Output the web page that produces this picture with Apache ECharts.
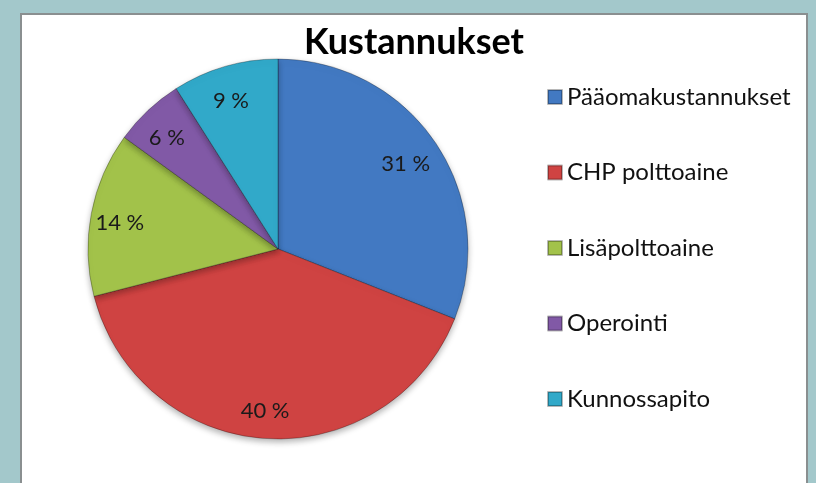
<!DOCTYPE html>
<html>
<head>
<meta charset="utf-8">
<script src="https://cdn.jsdelivr.net/npm/echarts@6/dist/echarts.min.js"></script>
<style>
html,body{margin:0;padding:0;background:#a3c8cb;}
#chart{width:816px;height:483px;}
</style>
</head>
<body>
<div id="chart"></div>
<script>
const titleText = 'Kustannukset';
const categories = ['Pääomakustannukset', 'CHP polttoaine', 'Lisäpolttoaine', 'Operointi', 'Kunnossapito'];
const values = [31, 40, 14, 6, 9];
const colors = ['#4279c2', '#cf4342', '#a2c24a', '#8159a6', '#31a9c9'];

const chart = echarts.init(document.getElementById('chart'));
const pieData = categories.map((name, i) => ({ name: name, value: values[i] }));

chart.setOption({
  backgroundColor: '#a3c8cb',
  color: colors,
  animation: false,
  graphic: [{
    type: 'rect',
    z: -10,
    silent: true,
    shape: { x: 21, y: 14, width: 786, height: 480 },
    style: { fill: '#ffffff', stroke: '#8a8f90', lineWidth: 2 }
  }],
  title: {
    text: titleText,
    left: 414,
    top: 24,
    padding: 0,
    textAlign: 'center',
    textStyle: { fontFamily: 'Lato', fontWeight: 'bold', fontSize: 36, color: '#000' }
  },
  legend: {
    orient: 'vertical',
    left: 547,
    top: 84,
    padding: 0,
    itemWidth: 14,
    itemHeight: 14,
    itemGap: 49.5,
    icon: 'rect',
    data: categories,
    textStyle: { fontFamily: 'Lato', fontSize: 24, color: '#111', lineHeight: 26 }
  },
  series: [{
    type: 'pie',
    name: 'main',
    center: [278, 249],
    radius: [0, 190],
    startAngle: 90,
    clockwise: true,
    label: { show: false },
    labelLine: { show: false },
    itemStyle: {
      borderColor: 'rgba(0,0,0,0.28)',
      borderWidth: 1,
      shadowBlur: 6,
      shadowOffsetY: 3,
      shadowColor: 'rgba(0,0,0,0.3)'
    },
    data: pieData
  }, {
    type: 'pie',
    name: 'labels',
    center: [278, 249],
    radius: [120, 190],
    startAngle: 90,
    clockwise: true,
    silent: true,
    itemStyle: { color: 'rgba(0,0,0,0)' },
    label: {
      show: true,
      position: 'inside',
      formatter: '{c} %',
      fontFamily: 'Lato',
      fontSize: 22,
      color: '#1a1a1a',
      offset: [-3, 4]
    },
    labelLine: { show: false },
    data: pieData
  }]
});
</script>
</body>
</html>
